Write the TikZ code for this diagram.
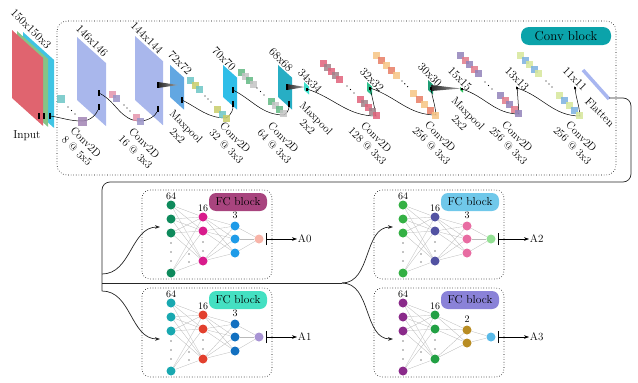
\documentclass[tikz,border=0pt]{standalone}
\usetikzlibrary{arrows.meta}

% feature map colours
\definecolor{inred}{HTML}{E0646F}
\definecolor{ingreen}{HTML}{85C487}
\definecolor{incyan}{HTML}{3FC4E4}
\definecolor{lav}{HTML}{A9B7EC}
\definecolor{mapA}{HTML}{62A7E2}
\definecolor{mapB}{HTML}{2FBEE8}
\definecolor{mapC}{HTML}{27AEC4}
\definecolor{mapD}{HTML}{3EE0CC}
\definecolor{mapE}{HTML}{2FBF8C}
\definecolor{mapF}{HTML}{1E9C74}
\definecolor{mapG}{HTML}{2EC05E}
\definecolor{flat}{HTML}{A8B6F0}
\definecolor{convtag}{HTML}{0BA3AA}
% kernel colours
\definecolor{kteal}{HTML}{6CC6C6}
\definecolor{kpurp}{HTML}{A184B4}
\definecolor{kpink}{HTML}{E494AC}
\definecolor{kviolet}{HTML}{9A94C8}
\definecolor{kyel}{HTML}{C8CC6A}
\definecolor{kgreen}{HTML}{62B882}
\definecolor{kgray}{HTML}{C4C4C4}
\definecolor{krose}{HTML}{E0627A}
\definecolor{kmauve}{HTML}{A0828A}
\definecolor{kor}{HTML}{F6C484}
\definecolor{ksal}{HTML}{E87C64}
\definecolor{kvio}{HTML}{9282BA}
\definecolor{kpk}{HTML}{E27A8A}
\definecolor{kyg}{HTML}{D6E69A}
\definecolor{kbl}{HTML}{7AB0E0}
% FC block colours
\definecolor{Ain}{HTML}{0E8A5C}\definecolor{Amid}{HTML}{D81B8C}\definecolor{Ahid}{HTML}{1E9BE8}\definecolor{Aout}{HTML}{F8B4A8}\definecolor{Atag}{HTML}{A8447E}
\definecolor{Bin}{HTML}{18A8B0}\definecolor{Bmid}{HTML}{E2402E}\definecolor{Bhid}{HTML}{1270C0}\definecolor{Bout}{HTML}{A894D4}\definecolor{Btag}{HTML}{44E0C2}
\definecolor{Cin}{HTML}{34B044}\definecolor{Cmid}{HTML}{5252A2}\definecolor{Chid}{HTML}{E86CA2}\definecolor{Cout}{HTML}{94E094}\definecolor{Ctag}{HTML}{70C8EA}
\definecolor{Din}{HTML}{8A2A8A}\definecolor{Dmid}{HTML}{22A044}\definecolor{Dhid}{HTML}{B88C22}\definecolor{Dout}{HTML}{5ABAE8}\definecolor{Dtag}{HTML}{8A82D8}

\tikzset{
  neuron/.style={circle, inner sep=0pt, minimum size=9pt},
  wire/.style={gray!55, line width=0.3pt},
  blkbox/.style={dotted, line width=0.6pt, rounded corners=8pt},
  fctag/.style={rounded corners=7pt, minimum width=58pt, minimum height=18pt, inner sep=0pt, font=\fontsize{11.5}{13}\selectfont},
  cnt/.style={inner sep=0.75pt, font=\fontsize{10}{11}\selectfont},
  szlbl/.style={rotate=-45, inner sep=0.75pt, font=\fontsize{11.5}{13}\selectfont},
  oplbl/.style={rotate=-45, inner sep=0.75pt, align=center, font=\fontsize{11}{12.5}\selectfont},
  kmark/.style={fill=black, inner sep=0pt, minimum width=1.6pt, minimum height=5.5pt},
  kcurve/.style={line width=0.5pt},
  route/.style={line width=0.7pt, black!85},
  tip/.style={-{Stealth[length=5pt,width=3.6pt]}},
}

% feature map: x, y, width, height, colour
\newcommand{\fmap}[5]{\fill[#5] (#1,#2) -- ++(#3,{0.9*#3}) -- ++(0,#4) -- ++({-#3},{-0.9*#3}) -- cycle;}
% kernel squares: x, y, count, step, colour a, colour b, size
\newcommand{\kgrp}[7]{%
  \foreach \k in {1,...,#3}{%
    \ifodd\k\relax\def\kc{#5}\else\def\kc{#6}\fi
    \fill[fill=\kc, fill opacity=0.85] ({#1+(\k-1)*#4},{#2+(\k-1)*#4}) rectangle ++(#7,#7);}}
% three dots: x, y, dx, dy
\newcommand{\kdots}[4]{\foreach \t in {0,1,2} \fill ({#1+\t*#3},{#2+\t*#4}) circle (0.7);}
% FC block: name, dx, dy, hidden size, output label
\newcommand{\fcnet}[5]{%
  \begin{scope}[shift={(#2,#3)}]
    \draw[blkbox] (142,190) rectangle (272,279);
    \node[fctag, fill=#1tag] (#1tag) at (238,202) {FC block};
    \foreach \y [count=\i] in {205,219,233,273}
      \node[neuron, fill=#1in] (#1a\i) at (171,\y) {};
    \foreach \y in {243,252,261} \fill (171,\y) circle (0.7);
    \foreach \y [count=\i] in {217,231,261}
      \node[neuron, fill=#1mid] (#1b\i) at (203,\y) {};
    \foreach \y in {242,251} \fill (203,\y) circle (0.7);
    \foreach \y in {254,262} \fill (189,\y) circle (0.7);
    \ifnum#4=3
      \foreach \y [count=\i] in {226,239,253}
        \node[neuron, fill=#1hid] (#1c\i) at (235,\y) {};
      \node[cnt] (#1n3) at (235,215) {3};
    \else
      \foreach \y [count=\i] in {232,245}
        \node[neuron, fill=#1hid] (#1c\i) at (235,\y) {};
      \node[cnt] (#1n3) at (235,221) {2};
    \fi
    \node[neuron, fill=#1out] (#1o) at (259,239) {};
    \node[cnt] (#1n1) at (171,196) {64};
    \node[cnt] (#1n2) at (203,208) {16};
    \foreach \i in {1,...,4} \foreach \j in {1,2,3} \draw[wire] (#1a\i) -- (#1b\j);
    \foreach \i in {1,2,3} \foreach \j in {1,...,#4} \draw[wire] (#1b\i) -- (#1c\j);
    \foreach \j in {1,...,#4} \draw[wire] (#1c\j) -- (#1o);
    \coordinate (#1bar) at (266,239);
    \node[inner sep=0.75pt, anchor=west, font=\fontsize{11}{12}\selectfont] (#1y) at (297,239) {#5};
    \draw[{Bar[width=12pt]}-{Stealth[length=5pt,width=3.6pt]}, line width=0.5pt] (#1bar) -- (#1y);
  \end{scope}}

\begin{document}
\begin{tikzpicture}[x=1pt,y=1pt,yscale=-1]
\useasboundingbox (0,0) rectangle (638,383);

%Rounded Rect [conv block]
\draw[blkbox, rounded corners=10pt] (57,21) rectangle (616,175);
\node[fill=convtag, rounded corners=8pt, minimum width=90pt, minimum height=18pt, inner sep=0pt, font=\fontsize{13}{14}\selectfont] (convtag) at (566,36) {Conv block};

%Shape: feature maps
\fmap{23}{32}{31}{68}{incyan}
\fmap{17}{31}{31}{68}{ingreen}
\fmap{12}{30}{31}{68}{inred}
\fmap{77}{37}{29}{63}{lav}
\fmap{135}{36}{28}{64}{lav}
\fmap{170}{65}{14}{32}{mapA}
\fmap{223}{65}{14}{32}{mapB}
\fmap{278}{65}{14}{32}{mapC}
\fmap{304}{82}{5}{8}{mapD}
\fmap{367}{82}{5}{9}{mapE}
\fmap{428}{80}{5}{10}{mapF}
\fmap{460}{87}{3}{3}{mapG}
\fmap{516}{86}{2}{3}{gray}
\fmap{574}{86}{2}{3}{gray}
%Straight Lines [flatten]
\draw[flat, line width=3.5pt] (583,70) -- (609,99);

%Shape: maxpool wedges
\shade[left color=black!85, right color=black!35] (158,82) -- (158,88) -- (178,85) -- cycle;
\shade[left color=black!85, right color=black!35] (287,84) -- (287,90) -- (305,87) -- cycle;
\shade[left color=black!85, right color=black!35] (431,85) -- (431,91) -- (461,88.5) -- cycle;

% markers
\node[kmark] (mIn1) at (39,116) {};
\node[kmark] (mIn2) at (44,116) {};
\node[kmark] (mIn3) at (50,116) {};
\node[kmark] (mA1) at (99,93) {};
\node[kmark] (mA2) at (99,107) {};
\node[kmark] (mB1) at (158,85) {};
\node[kmark] (mB2) at (158,109) {};
\node[kmark] (mC) at (182,100) {};
\node[kmark] (mD1) at (233,90) {};
\node[kmark] (mD2) at (233,104) {};
\node[kmark] (mE1) at (287,87) {};
\node[kmark] (mE2) at (289,104) {};
\node[kmark, minimum height=3pt] (mF) at (307,89) {};
\node[kmark, minimum height=3pt] (mG) at (370,88) {};
\node[kmark, minimum height=3pt] (mH) at (431,88) {};
\node[kmark, minimum height=2pt] (mJ) at (462,89) {};
\node[kmark, minimum height=2pt] (mK) at (517,88) {};
\node[kmark, minimum height=2pt] (mL) at (575,88) {};

% kernel ends
\coordinate (k1) at (82,121);
\coordinate (k2) at (140,121);
\coordinate (k3) at (226,118);
\coordinate (k4) at (284,115);
\coordinate (k5) at (376,116);
\coordinate (k6) at (436,115);
\coordinate (k7) at (519,114);
\coordinate (k8) at (580,116);

%Curve Lines
\draw[kcurve] (mIn3) to[out=10,in=180] (k1) to[out=0,in=100] (mA2);
\draw[kcurve] (mA1) to[out=30,in=180] (k2) to[out=0,in=100] (mB2);
\draw[kcurve] (mC) to[out=30,in=180] (k3) to[out=-30,in=90] (mD2);
\draw[kcurve] (mD1) to[out=30,in=180] (k4) to[out=-30,in=90] (mE2);
\draw[kcurve] (mF) to[out=20,in=180] (k5) to[out=-100,in=80] (mG);
\draw[kcurve] (mG) to[out=20,in=180] (k6) to[out=-95,in=85] (mH);
\draw[kcurve] (mJ) to[out=20,in=180] (k7) to[out=-95,in=85] (mK);
\draw[kcurve] (mK) to[out=20,in=180] (k8) to[out=-95,in=85] (mL);

%Shape: kernels
\kgrp{57}{95}{1}{4}{kteal}{kteal}{8}
\kdots{68}{107}{3.5}{3.5}
\kgrp{78}{117}{1}{4}{kpurp}{kpurp}{9}
\kgrp{109}{91}{2}{4}{kpink}{kviolet}{7}
\kdots{124}{105}{3}{3}
\kgrp{133}{114}{2}{4}{kpink}{kviolet}{7}
\kgrp{187}{77}{3}{4.5}{kteal}{kyel}{7}
\kdots{205}{96}{3}{3}
\kgrp{214}{106}{3}{4.5}{kyel}{kteal}{7}
\kgrp{238}{69}{4}{4}{kgreen}{kgray}{7}
\kdots{257}{88}{3.5}{3.5}
\kgrp{268}{98}{4}{4}{kgreen}{kgray}{7}
\kgrp{320}{60}{5}{4}{krose}{kmauve}{7}
\kdots{347}{86}{3.5}{3.5}
\kgrp{357}{96}{5}{4}{krose}{kmauve}{7}
\kgrp{373}{52}{5}{5}{kor}{ksal}{7}
\kdots{402}{81}{2.8}{2.8}
\kgrp{410}{90}{5}{5.5}{kor}{ksal}{7}
\kgrp{457}{52}{5}{4.5}{kvio}{kpk}{7}
\kdots{485}{82}{3.5}{3.5}
\kgrp{497}{92}{5}{4.5}{kvio}{kpk}{7}
\kgrp{517}{52}{5}{4.5}{kyg}{kbl}{7}
\kdots{546}{81}{3}{3}
\kgrp{556}{92}{5}{5}{kyg}{kbl}{7}

% Text Node
\draw (31,29) node [szlbl] (t150) {150x150x3};
\draw (27,136) node [inner sep=0.75pt, font=\fontsize{11.5}{13}\selectfont] (tin) {Input};
\draw (92,41) node [szlbl] (t146) {146x146};
\draw (147,38) node [szlbl] (t144) {144x144};
\draw (180,63) node [szlbl] (t72) {72x72};
\draw (224,59) node [szlbl] (t70) {70x70};
\draw (281,60) node [szlbl] (t68) {68x68};
\draw (310,81) node [szlbl] (t34) {34x34};
\draw (372,80) node [szlbl] (t32) {32x32};
\draw (430,75) node [szlbl] (t30) {30x30};
\draw (460,79) node [szlbl] (t15) {15x15};
\draw (517,79) node [szlbl] (t13) {13x13};
\draw (575,79) node [szlbl] (t11) {11x11};
\draw (600,112) node [szlbl] (tflat) {Flatten};
\draw (81.5,146.5) node [oplbl] (op1) {Conv2D\\8 @ 5x5};
\draw (140,147.5) node [oplbl] (op2) {Conv2D\\16 @ 3x3};
\draw (182,131) node [oplbl] (op3) {Maxpool\\2x2};
\draw (231,142) node [oplbl] (op4) {Conv2D\\32 @ 3x3};
\draw (279,142) node [oplbl] (op5) {Conv2D\\64 @ 3x3};
\draw (312,122.5) node [oplbl] (op6) {Maxpool\\2x2};
\draw (372,141.5) node [oplbl] (op7) {Conv2D\\128 @ 3x3};
\draw (436,141) node [oplbl] (op8) {Conv2D\\256 @ 3x3};
\draw (464,118) node [oplbl] (op9) {Maxpool\\2x2};
\draw (513,141) node [oplbl] (op10) {Conv2D\\256 @ 3x3};
\draw (577,141) node [oplbl] (op11) {Conv2D\\256 @ 3x3};

% FC blocks
\fcnet{A}{0}{0}{3}{A0}
\fcnet{B}{0}{98}{3}{A1}
\fcnet{C}{232}{0}{3}{A2}
\fcnet{D}{232}{98}{2}{A3}

% routing
\coordinate (flatEnd) at (609,98);
\coordinate (Jt) at (102,274);
\coordinate (J) at (102,283);
\coordinate (Jb) at (102,291);
\coordinate (fork) at (342,283);
\coordinate (Ainp) at (160,227);
\coordinate (Binp) at (160,339);
\coordinate (Cinp) at (393,227);
\coordinate (Dinp) at (393,339);
\draw[route, rounded corners=8pt] (flatEnd) -- (631,98) -- (631,182) -- (102,182) -- (Jb);
\draw[route] (J) -- (fork);
\draw[route, tip] (Jt) to[out=0,in=180] (Ainp);
\draw[route, tip] (Jb) to[out=0,in=180] (Binp);
\draw[route, tip] (fork) to[out=0,in=180] (Cinp);
\draw[route, tip] (fork) to[out=0,in=180] (Dinp);

\end{tikzpicture}
\end{document}
